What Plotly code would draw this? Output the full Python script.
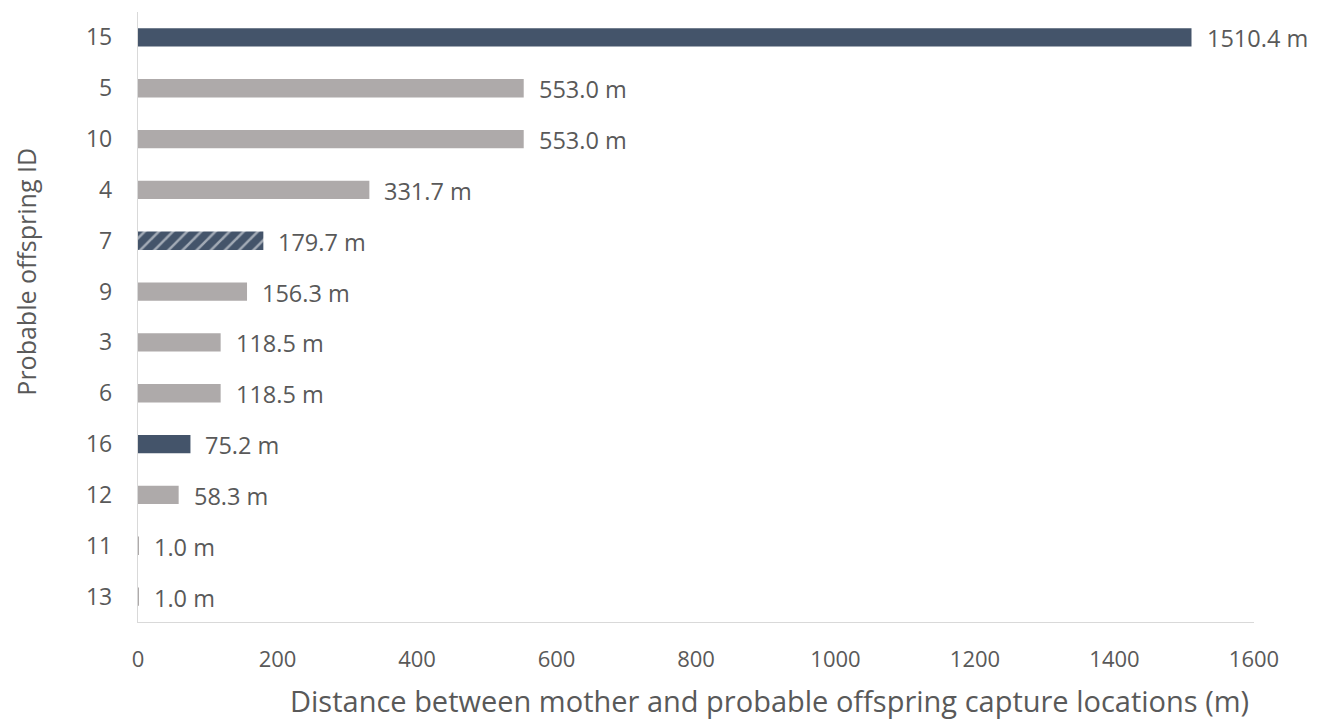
import plotly.graph_objects as go

ids = ["15", "5", "10", "4", "7", "9", "3", "6", "16", "12", "11", "13"]
distances = [1510.4, 553.0, 553.0, 331.7, 179.7, 156.3, 118.5, 118.5, 75.2, 58.3, 1.0, 1.0]
groups = ["dark", "gray", "gray", "gray", "hatch", "gray", "gray", "gray", "dark", "gray", "gray", "gray"]
x_ticks = [0, 200, 400, 600, 800, 1000, 1200, 1400, 1600]
x_title = "Distance between mother and probable offspring capture locations (m)"
y_title = "Probable offspring ID"

DARK = "#44546A"
GRAY = "#AEAAAA"
TXT = "#595959"
FONT = "Open Sans"

order = ids[::-1]  # bottom to top
colors = [DARK if g in ("dark", "hatch") else GRAY for g in groups]
shapes = ["/" if g == "hatch" else "" for g in groups]

fig = go.Figure()
fig.add_trace(go.Bar(
    x=distances, y=ids, orientation="h",
    marker=dict(
        color=colors, line=dict(width=0),
        pattern=dict(shape=shapes, fgcolor=GRAY,
                     fillmode="overlay", size=10, solidity=0.25),
    ),
    hoverinfo="x+y",
))

for d, i in zip(distances, ids):
    fig.add_annotation(x=d, y=order.index(i), text=f"{d:.1f} m", showarrow=False,
                       xanchor="left", xshift=13, yshift=-1,
                       font=dict(family=FONT, size=23.5, color=TXT))

# axis titles (offset from plot centre as in the original)
fig.add_annotation(text=x_title, xref="paper", yref="paper", x=0.566, y=-0.1295,
                   xanchor="center", yanchor="middle", showarrow=False,
                   font=dict(family=FONT, size=29, color=TXT))
fig.add_annotation(text=y_title, xref="paper", yref="paper", x=-0.1, y=0.575,
                   xanchor="center", yanchor="middle", showarrow=False, textangle=-90,
                   font=dict(family=FONT, size=25, color=TXT))

fig.update_layout(
    width=1323, height=722,
    margin=dict(l=130, r=77, t=4, b=108, autoexpand=False),
    paper_bgcolor="white", plot_bgcolor="white",
    showlegend=False,
    bargap=0.64,
    font=dict(family=FONT, size=18, color=TXT),
)
fig.update_xaxes(
    range=[0, 1600], tickvals=x_ticks, showgrid=False, zeroline=False,
    showline=True, linecolor="#D9D9D9", linewidth=1.3, automargin=False,
    tickfont=dict(size=22, color=TXT), ticks="", ticklabelstandoff=17,
)
fig.update_yaxes(
    type="category", categoryorder="array", categoryarray=order,
    range=[-0.5, len(ids) - 0.5],
    showgrid=False, zeroline=False, showline=True, linecolor="#D9D9D9", linewidth=1.3,
    automargin=False,
    tickfont=dict(size=23, color=TXT), ticks="", ticklabelstandoff=20,
)

fig.write_html("out.html")
